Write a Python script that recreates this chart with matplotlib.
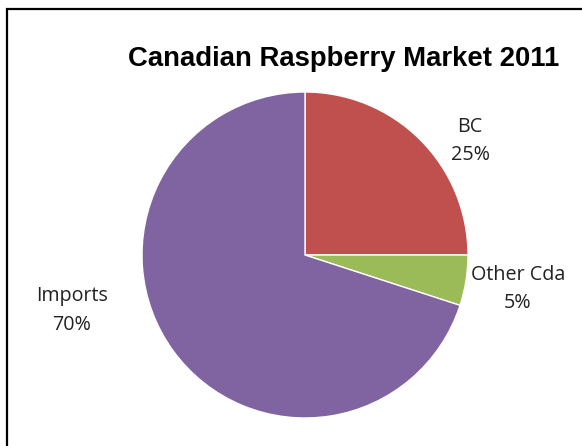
import matplotlib.pyplot as plt
from matplotlib.patches import Rectangle

labels = ['BC', 'Other Cda', 'Imports']
shares = [25, 5, 70]
colors = ['#C0504D', '#9BBB59', '#8064A2']
# label anchor points (pixels, y measured from the top)
label_pos = [(470, 141), (518, 289), (72, 311)]

W, H = 582, 446
fig = plt.figure(figsize=(W / 100, H / 100), dpi=100)
ax = fig.add_axes([0, 0, 1, 1])

ax.pie(shares, colors=colors, startangle=90, counterclock=False,
       center=(305, H - 255), radius=163,
       wedgeprops={'edgecolor': 'white', 'linewidth': 1})

for name, val, (x, y) in zip(labels, shares, label_pos):
    ax.text(x, H - y, f'{name}\n{val}%', ha='center', va='center',
            fontsize=14.2, family='Open Sans', color='#222222',
            linespacing=1.6)

ax.text(344, H - 59, 'Canadian Raspberry Market 2011', ha='center', va='center',
        fontsize=19.8, fontweight='bold', family='Liberation Sans')

# chart frame, running off the right and bottom edge
ax.add_patch(Rectangle((6.5, -20), 700, H - 8.5 + 20, fill=False,
                       edgecolor='black', linewidth=1.6))

ax.set_xlim(0, W)
ax.set_ylim(0, H)
ax.set_aspect('auto')
ax.axis('off')

fig.savefig('out.png', dpi=100)
